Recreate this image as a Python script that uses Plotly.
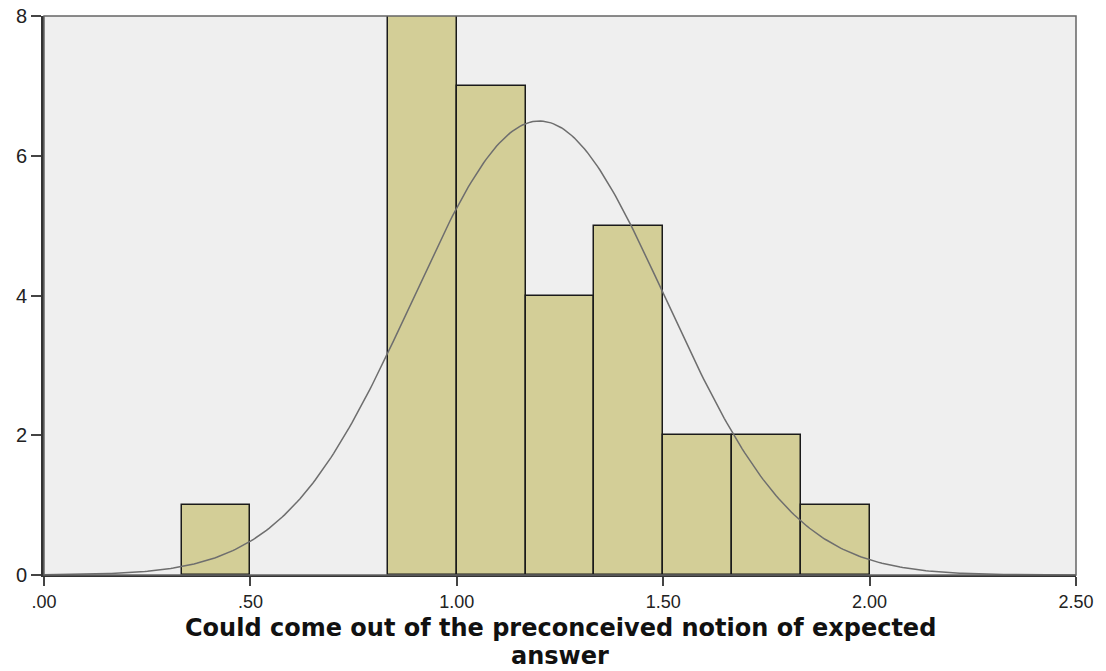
import numpy as np
import plotly.graph_objects as go

bin_left = [1/3, 5/6, 1.0, 7/6, 4/3, 1.5, 5/3, 11/6]
counts = [1, 8, 7, 4, 5, 2, 2, 1]
bin_width = 1/6
mean_val = 1.2
sd_val = 0.307
n_total = 30

x_ticks = [0, 0.5, 1.0, 1.5, 2.0, 2.5]
x_tick_labels = [".00", ".50", "1.00", "1.50", "2.00", "2.50"]
y_ticks = [0, 2, 4, 6, 8]
title_lines = ["Could come out of the preconceived notion of expected", "answer"]

centers = [b + bin_width / 2 for b in bin_left]
xc = np.linspace(0, 2.5, 400)
yc = n_total * bin_width / (sd_val * np.sqrt(2 * np.pi)) * np.exp(-0.5 * ((xc - mean_val) / sd_val) ** 2)

fig = go.Figure()
fig.add_trace(go.Bar(x=centers, y=counts, width=[bin_width] * len(counts),
                     marker=dict(color="#D3CE97", line=dict(color="#1a1a1a", width=1.5)),
                     showlegend=False, hoverinfo="skip"))
fig.add_trace(go.Scatter(x=xc, y=yc, mode="lines", line=dict(color="#6e6e6e", width=1.5),
                         showlegend=False, hoverinfo="skip"))

fig.update_layout(
    width=1106, height=671,
    margin=dict(l=44, r=30, t=16, b=96),
    paper_bgcolor="white", plot_bgcolor="#EFEFEF",
    bargap=0,
    font=dict(family="Liberation Sans, Arial, sans-serif", color="#222222"),
    xaxis=dict(range=[0, 2.5], tickvals=x_ticks, ticktext=x_tick_labels, automargin=False,
               showgrid=False, zeroline=False, showline=True, linecolor="#333333", linewidth=2,
               mirror=False, ticks="outside", ticklen=9, tickwidth=2, tickcolor="#444444",
               tickfont=dict(size=18, color="#222222")),
    yaxis=dict(range=[0, 8], tickvals=y_ticks, showgrid=False, zeroline=False, automargin=False,
               showline=True, linecolor="#333333", linewidth=3,
               ticks="outside", ticklen=10, tickwidth=2, tickcolor="#444444",
               tickfont=dict(size=20, color="#222222")),
)
fig.add_shape(type="rect", xref="paper", yref="paper", x0=0, y0=0, x1=1, y1=1,
              line=dict(color="#666666", width=1.5), layer="above")
title_font = dict(family="DejaVu Sans, sans-serif", size=24, color="#111111", weight="bold")
fig.add_annotation(x=0.5, xref="paper", y=0, yref="paper", borderpad=0,
                   text=title_lines[0], showarrow=False, font=title_font,
                   xanchor="center", yanchor="middle", yshift=-53)
fig.add_annotation(x=0.5, xref="paper", y=0, yref="paper", borderpad=0,
                   text=title_lines[1], showarrow=False, font=title_font,
                   xanchor="center", yanchor="middle", yshift=-81)
fig.write_html("out.html", config={"displayModeBar": False},
               post_script="document.body.style.margin='0';document.body.style.overflow='hidden';")
